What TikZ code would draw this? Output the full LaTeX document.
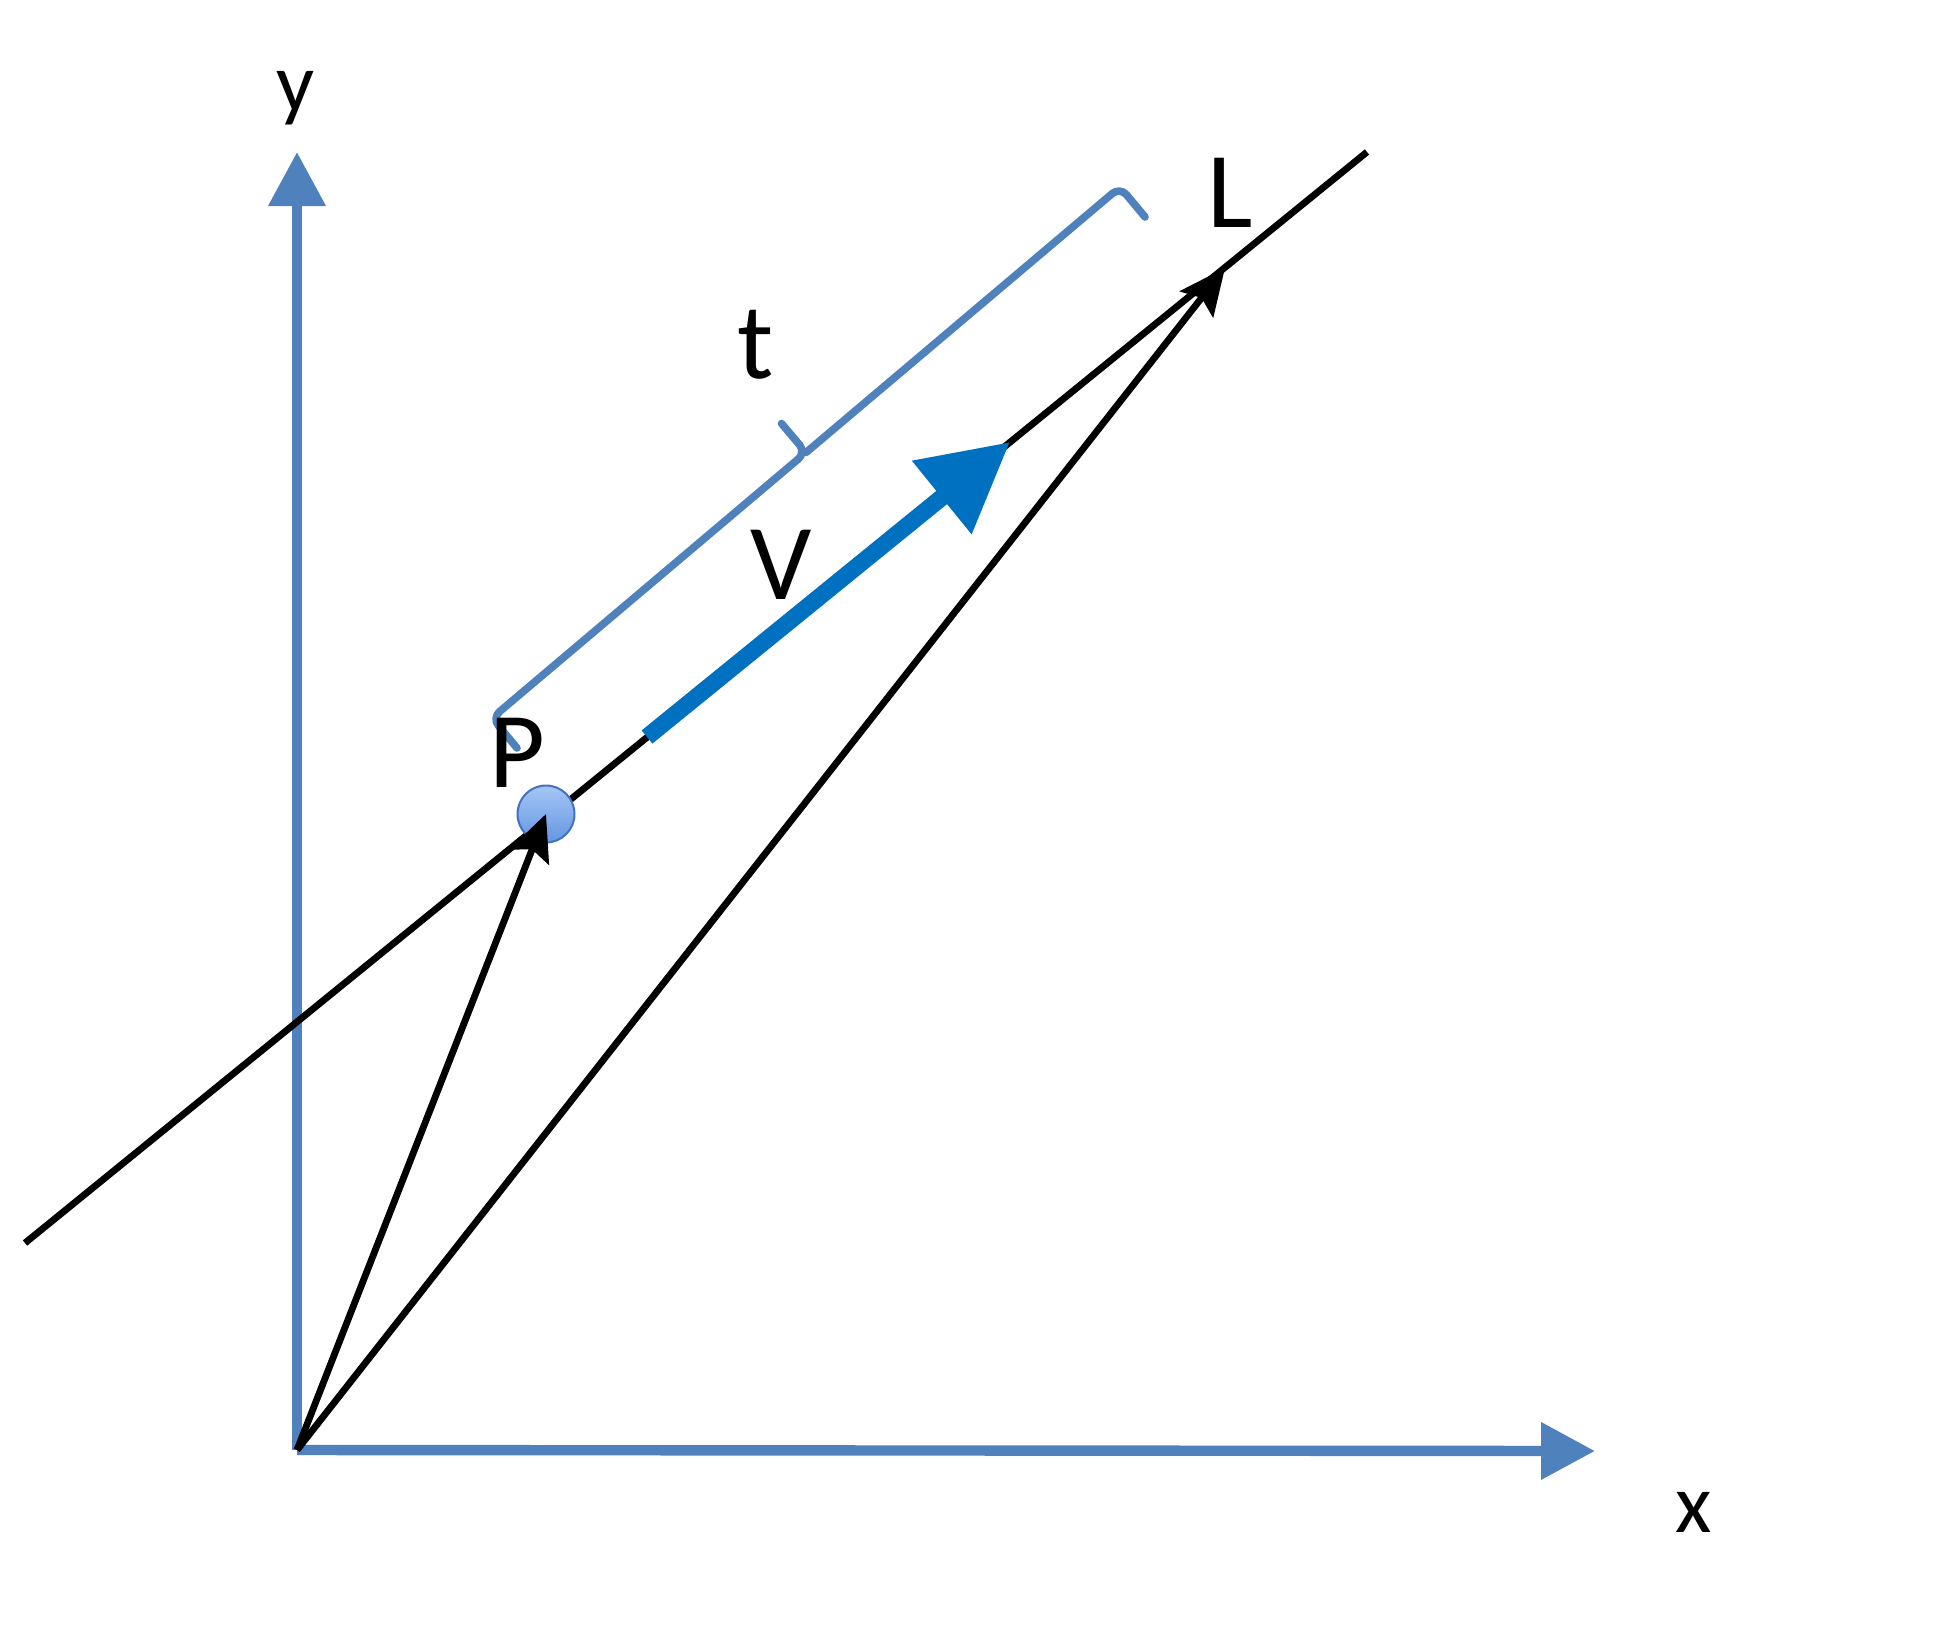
\documentclass[tikz,border=0pt]{standalone}
\usepackage{fontspec}
\setmainfont{Carlito}
\usetikzlibrary{arrows.meta}
\definecolor{axisblue}{RGB}{79,129,189}
\definecolor{vblue}{RGB}{0,112,192}
\definecolor{ptop}{RGB}{165,198,246}
\definecolor{pbot}{RGB}{100,150,226}
\definecolor{pedge}{RGB}{66,114,192}
\tikzset{
  axisline/.style={draw=axisblue, line width=5.2pt, -{Triangle[length=27pt,width=27.5pt]}},
  blackline/.style={draw=black, line width=3.4pt},
  vecline/.style={draw=black, line width=3.4pt, -{Stealth[length=23pt,width=21pt,inset=4pt]}},
  vline/.style={draw=vblue, line width=8.5pt, -{Triangle[length=44pt,width=45pt]}},
  bracketline/.style={draw=axisblue, line width=3.8pt, rounded corners=5pt, line cap=round},
  bigtext/.style={font=\fontsize{54}{60}\selectfont, anchor=base, inner sep=0pt},
  axtext/.style={font=\fontsize{42}{48}\selectfont, anchor=base, inner sep=0pt},
  pdot/.style={circle, minimum size=28.5pt, inner sep=0pt, draw=pedge, line width=1pt, top color=ptop, bottom color=pbot}
}
\begin{document}
\begin{tikzpicture}[x=0.5pt, y=-0.5pt]
\useasboundingbox (0,0) rectangle (1943,1633);
% key points
\coordinate (O) at (297,1450);
\coordinate (Xend) at (1595,1451);
\coordinate (Yend) at (297,152);
\coordinate (Lstart) at (25,1243);
\coordinate (Lend) at (1367,152);
\coordinate (Pp) at (546,814);
\coordinate (Lp) at (1225,268);
\coordinate (Vs) at (647,737);
\coordinate (Ve) at (1010,442);
% bracket
\coordinate (BA) at (492,718);
\coordinate (BAh) at (517,748);
\coordinate (BB) at (1120,187);
\coordinate (BBh) at (1145,217);
\coordinate (BM) at (806,452.5);
\coordinate (BT) at (781.5,423.5);
% axes
\draw[axisline] (O) -- (Yend);
\draw[axisline] (O) -- (Xend);
% main line
\draw[blackline] (Lstart) -- (Lend);
% bracket
\draw[bracketline] (BAh) -- (BA) -- (BM) -- (BT);
\draw[bracketline] (BM) -- (BB) -- (BBh);
% point P
\node[pdot] (P) at (Pp) {};
% V vector
\draw[vline] (Vs) -- (Ve);
% vectors from origin
\draw[vecline] (O) -- (P.center);
\draw[vecline] (O) -- (Lp);
% labels
\node[axtext] (ylab) at (296,111) {y};
\node[axtext] (xlab) at (1694,1532) {x};
\node[bigtext] (plab) at (517,787) {P};
\node[bigtext] (llab) at (1230,227) {L};
\node[bigtext] (tlab) at (756,378) {t};
\node[bigtext] (vlab) at (781,599) {V};
\end{tikzpicture}
\end{document}
